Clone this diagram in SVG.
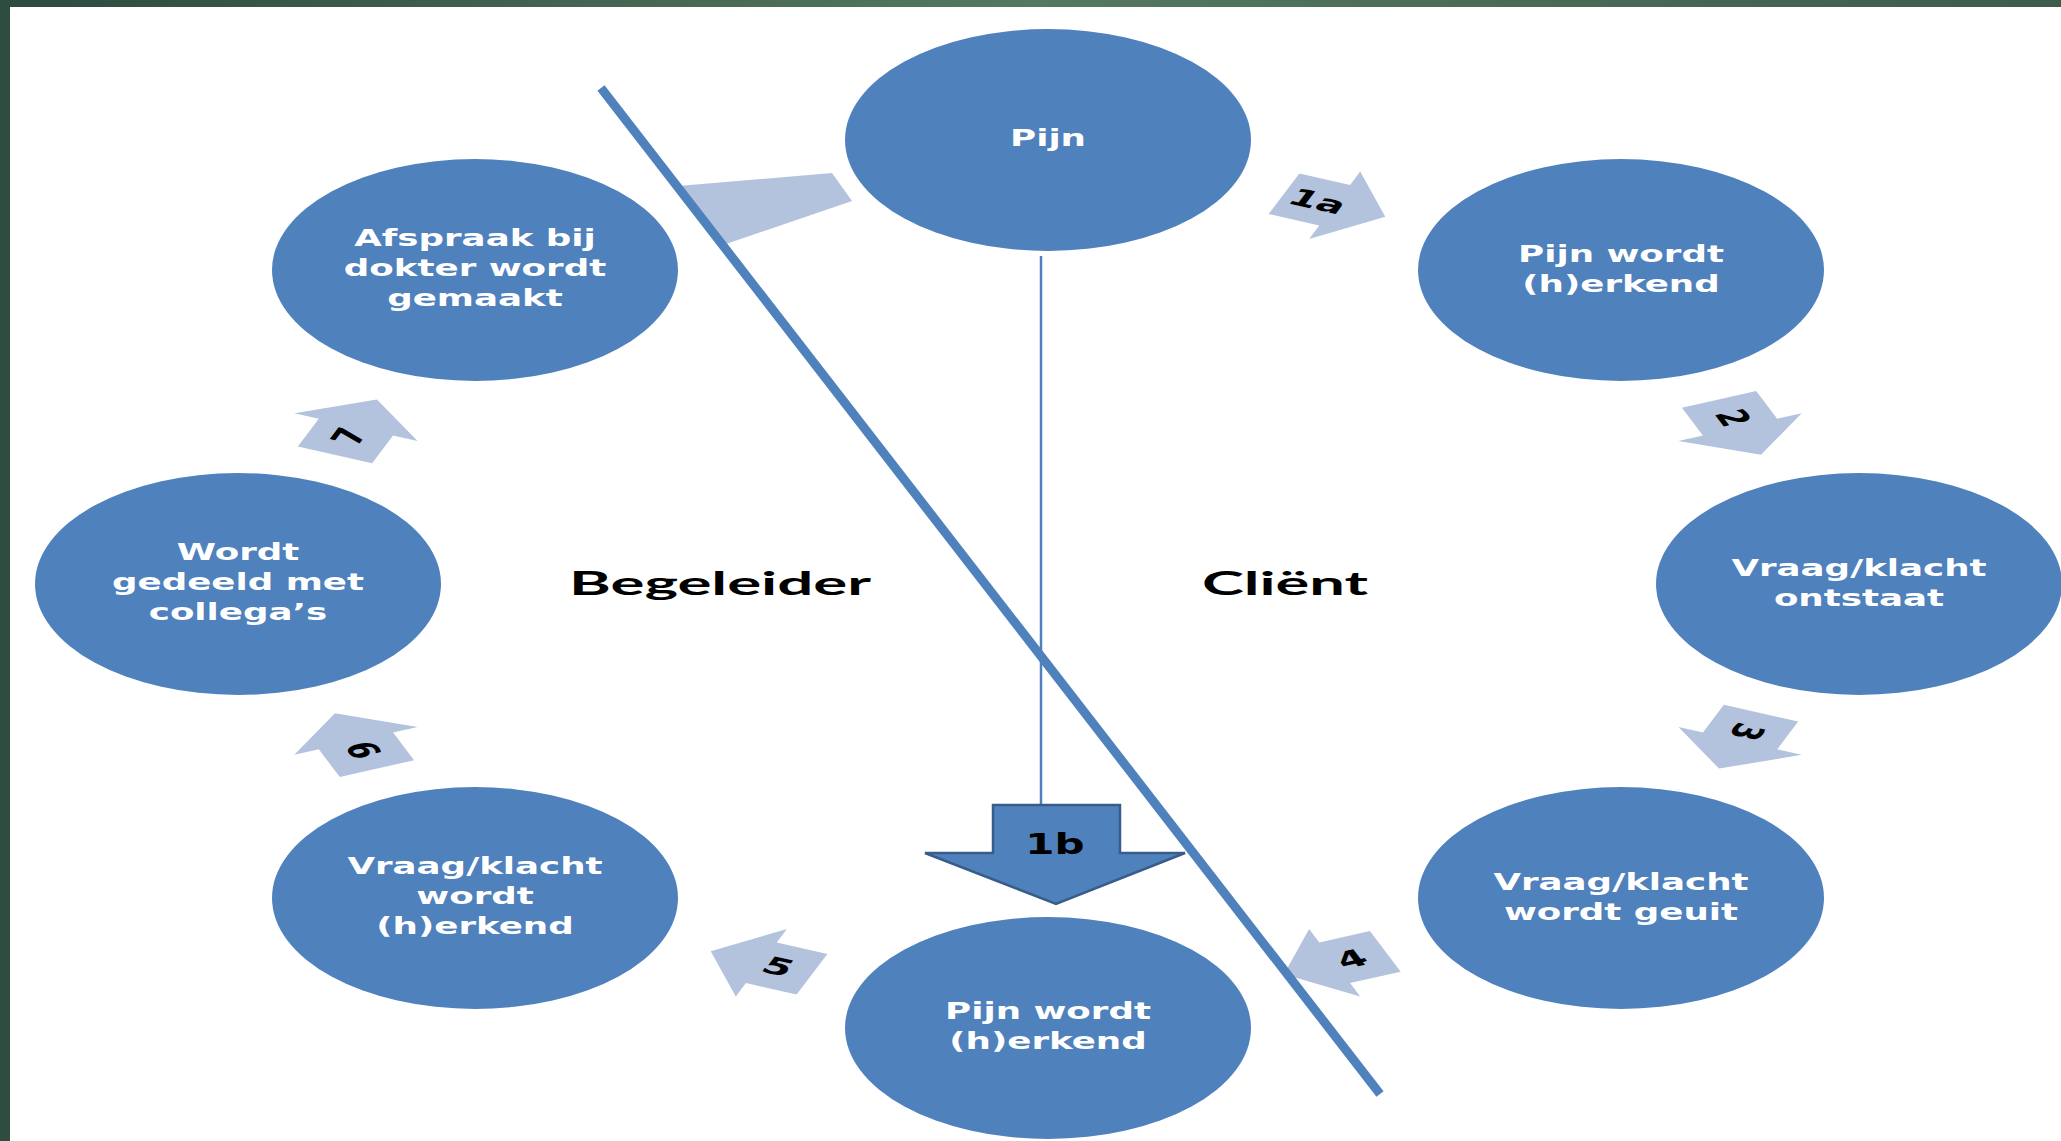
<svg xmlns="http://www.w3.org/2000/svg" width="2061" height="1141" viewBox="0 0 2061 1141">
<defs>
<linearGradient id="band" x1="0" y1="0" x2="1" y2="0">
<stop offset="0" stop-color="#2c4a3e"/>
<stop offset="0.5" stop-color="#55795f"/>
<stop offset="1" stop-color="#3d5c4c"/>
</linearGradient>
<style>
.node{fill:#4f81bd}
.nt{font-family:"DejaVu Sans",Verdana,sans-serif;font-weight:bold;font-size:23px;fill:#ffffff;text-anchor:middle}
.arr{fill:#b3c2dd}
.an{font-family:"DejaVu Sans",Verdana,sans-serif;font-weight:bold;font-size:23px;fill:#000000;text-anchor:middle}
.lbl{font-family:Lato,"Open Sans",sans-serif;font-weight:bold;font-size:32px;fill:#000000}
</style>
<polygon id="ra" points="-30,-22 0,-22 0,-36.5 30,0 0,36.5 0,22 -30,22"/>
</defs>
<rect x="0" y="0" width="2061" height="1141" fill="#ffffff"/>
<rect x="0" y="0" width="2061" height="7" fill="url(#band)"/>
<rect x="0" y="0" width="10" height="1141" fill="#2e4c40"/>

<g id="connectors">
<polygon class="arr" points="678,186 832,173 852,201 723,245"/>
<g id="a1a" transform="translate(1048,584) scale(1.827,1) rotate(-67.5) translate(410,0) rotate(90)">
<use href="#ra" class="arr"/><text class="an" x="-10" y="8">1a</text></g>
<g id="a2" transform="translate(1048,584) scale(1.827,1) rotate(-22.5) translate(410,0) rotate(90)">
<use href="#ra" class="arr"/><text class="an" x="-10" y="8">2</text></g>
<g id="a3" transform="translate(1048,584) scale(1.827,1) rotate(22.5) translate(410,0) rotate(90)">
<use href="#ra" class="arr"/><text class="an" x="-10" y="8">3</text></g>
<g id="a4" transform="translate(1048,584) scale(1.827,1) rotate(67.5) translate(410,0) rotate(90)">
<use href="#ra" class="arr"/><text class="an" x="0" y="8" transform="translate(-10,0) rotate(180)">4</text></g>
<g id="a5" transform="translate(1048,584) scale(1.827,1) rotate(112.5) translate(410,0) rotate(90)">
<use href="#ra" class="arr"/><text class="an" x="0" y="8" transform="translate(-10,0) rotate(180)">5</text></g>
<g id="a6" transform="translate(1048,584) scale(1.827,1) rotate(157.5) translate(410,0) rotate(90)">
<use href="#ra" class="arr"/><text class="an" x="0" y="8" transform="translate(-10,0) rotate(180)">6</text></g>
<g id="a7" transform="translate(1048,584) scale(1.827,1) rotate(202.5) translate(410,0) rotate(90)">
<use href="#ra" class="arr"/><text class="an" x="-10" y="8">7</text></g>
<line x1="1041" y1="256" x2="1041" y2="806" stroke="#4f81bd" stroke-width="2.5"/>
<g id="a1b">
<polygon points="993,805 1120,805 1120,853 1185,853 1056,904 925,853 993,853" fill="#4f81bd" stroke="#385d8a" stroke-width="2.5" stroke-linejoin="miter"/>
<text transform="translate(1055,854) scale(1.5,1)" x="0" y="0" style="font-family:'DejaVu Sans',Verdana,sans-serif;font-weight:bold;font-size:28px;fill:#000;text-anchor:middle">1b</text>
</g>
<line x1="601" y1="88" x2="1380" y2="1094" stroke="#4f81bd" stroke-width="9"/>
</g>

<g id="n1" transform="translate(1048,140)"><ellipse class="node" rx="203" ry="111"/>
<g transform="scale(1.55,1)"><text class="nt" x="0" y="6">Pijn</text></g></g>
<g id="n2" transform="translate(1621,270)"><ellipse class="node" rx="203" ry="111"/>
<g transform="scale(1.55,1)"><text class="nt" x="0" y="-8">Pijn wordt</text><text class="nt" x="0" y="22">(h)erkend</text></g></g>
<g id="n3" transform="translate(1859,584)"><ellipse class="node" rx="203" ry="111"/>
<g transform="scale(1.55,1)"><text class="nt" x="0" y="-8">Vraag/klacht</text><text class="nt" x="0" y="22">ontstaat</text></g></g>
<g id="n4" transform="translate(1621,898)"><ellipse class="node" rx="203" ry="111"/>
<g transform="scale(1.55,1)"><text class="nt" x="0" y="-8">Vraag/klacht</text><text class="nt" x="0" y="22">wordt geuit</text></g></g>
<g id="n5" transform="translate(1048,1028)"><ellipse class="node" rx="203" ry="111"/>
<g transform="scale(1.55,1)"><text class="nt" x="0" y="-9">Pijn wordt</text><text class="nt" x="0" y="21">(h)erkend</text></g></g>
<g id="n6" transform="translate(475,898)"><ellipse class="node" rx="203" ry="111"/>
<g transform="scale(1.55,1)"><text class="nt" x="0" y="-24">Vraag/klacht</text><text class="nt" x="0" y="6">wordt</text><text class="nt" x="0" y="36">(h)erkend</text></g></g>
<g id="n7" transform="translate(238,584)"><ellipse class="node" rx="203" ry="111"/>
<g transform="scale(1.55,1)"><text class="nt" x="0" y="-24">Wordt</text><text class="nt" x="0" y="6">gedeeld met</text><text class="nt" x="0" y="36">collega’s</text></g></g>
<g id="n8" transform="translate(475,270)"><ellipse class="node" rx="203" ry="111"/>
<g transform="scale(1.55,1)"><text class="nt" x="0" y="-24">Afspraak bij</text><text class="nt" x="0" y="6">dokter wordt</text><text class="nt" x="0" y="36">gemaakt</text></g></g>

<g id="labels">
<text class="lbl" x="569" y="595" textLength="302" lengthAdjust="spacingAndGlyphs">Begeleider</text>
<text class="lbl" x="1202" y="595" textLength="166" lengthAdjust="spacingAndGlyphs">Cliënt</text>
</g>
</svg>
